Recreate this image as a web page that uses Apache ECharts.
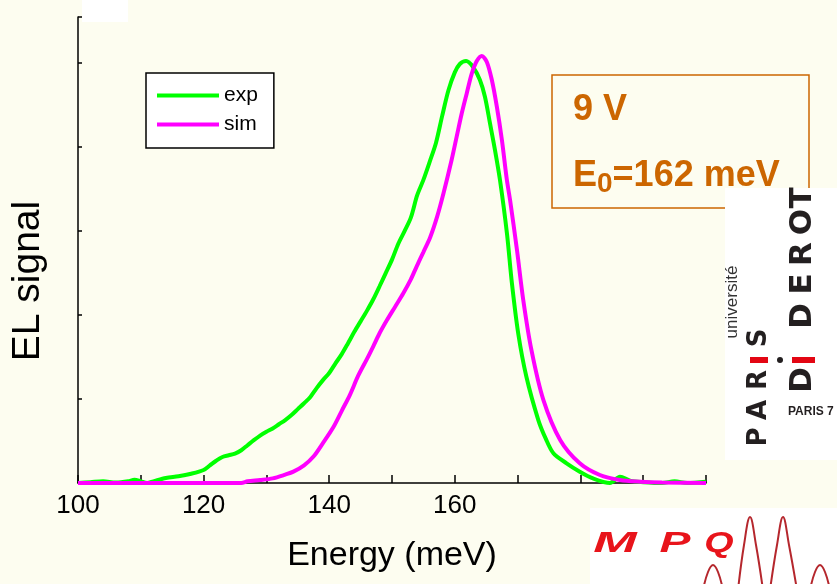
<!DOCTYPE html>
<html>
<head>
<meta charset="utf-8">
<title>EL signal - 9 V</title>
<script src="https://cdn.jsdelivr.net/npm/echarts@6/dist/echarts.min.js"></script>
<style>
  html, body { margin: 0; padding: 0; background: #fdfdf0; }
  #chart { width: 837px; height: 584px; }
</style>
</head>
<body>
<div id="chart"></div>
<script>
// measured EL spectrum (exp) and simulation (sim), normalised
const expEnergy = [100, 102, 104, 106, 108, 109, 110, 111, 112, 114, 116, 118, 120, 121, 122, 123, 124, 125,
  126, 127, 128, 129, 130, 131, 132, 133, 134, 135, 136, 137, 138, 139, 140, 141, 142, 143, 144, 145, 146,
  147, 148, 149, 150, 151, 152, 153, 154, 155, 156, 157, 158, 159, 160, 160.8, 161.8, 162.9, 164, 164.8,
  165.6, 166.4, 167.2, 168.3, 169.1, 170.1, 171.4, 173.3, 174.5, 175.7, 177.8, 179.9, 182, 184.7, 186.3,
  188, 190, 193, 195, 197, 200];
const expSignal = [0, 0.002, 0.004, 0.001, 0.004, 0.008, 0.004, 0, 0.004, 0.012, 0.016, 0.022, 0.031, 0.042,
  0.053, 0.062, 0.066, 0.070, 0.078, 0.090, 0.102, 0.113, 0.122, 0.130, 0.140, 0.150, 0.162, 0.176, 0.190,
  0.205, 0.226, 0.245, 0.262, 0.285, 0.307, 0.333, 0.360, 0.385, 0.410, 0.437, 0.468, 0.500, 0.532, 0.570,
  0.600, 0.632, 0.685, 0.722, 0.765, 0.810, 0.875, 0.936, 0.978, 0.998, 1.005, 0.991, 0.960, 0.920, 0.857,
  0.793, 0.721, 0.595, 0.475, 0.356, 0.253, 0.150, 0.105, 0.071, 0.047, 0.027, 0.011, 0, 0.015, 0.005,
  0.002, 0, 0.004, 0, 0.003];

const simEnergy = [100, 110, 120, 126, 127, 129, 131, 133, 134.3, 136, 137.5, 139, 140.7, 142, 143.3, 144.6,
  146, 147, 148, 149.2, 150.5, 151.8, 153, 153.9, 155, 156.1, 157.2, 158.2, 159.5, 160.3, 161.1, 161.9,
  162.7, 163.5, 164.3, 165.1, 165.9, 166.7, 167.5, 168.3, 168.8, 169.9, 170.9, 172.2, 174.1, 176.8, 179.9,
  183.1, 186.3, 189.5, 193, 200];
const simSignal = [0, 0, 0, 0, 0.004, 0.007, 0.011, 0.020, 0.027, 0.042, 0.063, 0.095, 0.134, 0.172, 0.210,
  0.255, 0.295, 0.325, 0.356, 0.388, 0.420, 0.452, 0.485, 0.515, 0.550, 0.586, 0.635, 0.690, 0.770, 0.825,
  0.880, 0.928, 0.975, 1.005, 1.017, 1.003, 0.960, 0.896, 0.817, 0.721, 0.674, 0.555, 0.436, 0.317, 0.198,
  0.102, 0.047, 0.019, 0.007, 0.003, 0.001, 0];

const xLabels = [100, 120, 140, 160];

const FONT = '"Liberation Sans", Arial, sans-serif';
const ORANGE = '#cc6600';
const MPQ_RED = '#e8141b';
const WAVE = '#b5272d';

function pairs(xs, ys) {
  return xs.map((x, i) => [x, ys[i]]);
}

// rotated letters for the university logo (reads bottom to top)
function letters(list, x, size, color) {
  return list.map(([ch, y]) => ({
    type: 'text', x: x, y: y, rotation: Math.PI / 2, z: 12,
    style: { text: ch, fill: color, font: 'bold ' + size + 'px "DejaVu Sans", sans-serif',
      align: 'center', verticalAlign: 'middle' }
  }));
}

function mpqLetter(ch, x, sx) {
  return { type: 'text', x: x, y: 544, scaleX: sx, z: 12,
    style: { text: ch, fill: MPQ_RED, font: 'italic bold 29px ' + FONT, align: 'center', verticalAlign: 'middle' } };
}

function wave(points) {
  return { type: 'polyline', z: 12, shape: { smooth: 0.4, points: points },
    style: { stroke: WAVE, lineWidth: 2, fill: 'none' } };
}

const chart = echarts.init(document.getElementById('chart'));

const option = {
  animation: false,
  backgroundColor: '#fdfdf0',
  grid: { left: 78, right: 131, top: 17, bottom: 101, containLabel: false, outerBoundsMode: 'none' },
  legend: {
    orient: 'vertical',
    left: 146, top: 73,
    icon: 'rect',
    itemWidth: 62, itemHeight: 4, itemGap: 8,
    padding: [12, 16, 13, 11],
    backgroundColor: '#ffffff',
    borderColor: '#000', borderWidth: 1.5, borderRadius: 0,
    textStyle: { fontFamily: FONT, fontSize: 21, lineHeight: 20, color: '#000' },
    data: ['exp', 'sim']
  },
  xAxis: {
    type: 'value',
    min: 100, max: 200, interval: 10,
    name: 'Energy (meV)',
    nameLocation: 'middle',
    nameGap: 56,
    nameTextStyle: { fontFamily: FONT, fontSize: 34, color: '#000' },
    axisLine: { lineStyle: { color: '#000', width: 1.5 } },
    axisTick: { inside: true, length: 8, lineStyle: { color: '#000', width: 1.5 } },
    axisLabel: {
      fontFamily: FONT, fontSize: 26, color: '#000', margin: 10,
      formatter: v => (xLabels.indexOf(v) >= 0 ? String(v) : '')
    },
    splitLine: { show: false }
  },
  yAxis: {
    type: 'value',
    min: 0, max: 1.11, interval: 0.2,
    name: 'EL signal',
    nameLocation: 'middle',
    nameGap: 30,
    nameTextStyle: { fontFamily: FONT, fontSize: 39, color: '#000', padding: [0, 62, 0, 0] },
    axisLine: { show: true, lineStyle: { color: '#000', width: 1.5 } },
    axisTick: { show: true, inside: true, length: 4, lineStyle: { color: '#000', width: 1.5 } },
    axisLabel: { show: false },
    splitLine: { show: false }
  },
  series: [
    {
      name: 'exp', type: 'line', data: pairs(expEnergy, expSignal),
      smooth: 0.3, symbol: 'none',
      lineStyle: { color: '#00ff00', width: 4 }, itemStyle: { color: '#00ff00' }
    },
    {
      name: 'sim', type: 'line', data: pairs(simEnergy, simSignal),
      smooth: 0.3, symbol: 'none',
      lineStyle: { color: '#ff00ff', width: 4 }, itemStyle: { color: '#ff00ff' }
    }
  ],
  graphic: [
    // small white patch at top left
    { type: 'rect', shape: { x: 82, y: 0, width: 46, height: 22 }, style: { fill: '#ffffff' }, z: 5 },
    // annotation box
    { type: 'rect', shape: { x: 552, y: 75, width: 257, height: 133 },
      style: { fill: 'none', stroke: ORANGE, lineWidth: 1.5 }, z: 8 },
    { type: 'text', x: 573, y: 110, z: 9,
      style: { text: '9 V', fill: ORANGE, font: 'bold 36px ' + FONT, verticalAlign: 'middle' } },
    { type: 'text', x: 573, y: 176, z: 9,
      style: {
        text: 'E{sub|0}=162 meV', fill: ORANGE, font: 'bold 36px ' + FONT, verticalAlign: 'middle',
        rich: { sub: { fontSize: 28, fontWeight: 'bold', fontFamily: FONT, fill: ORANGE, padding: [16, 0, 0, 0] } }
      } },
    // logos
    { type: 'rect', shape: { x: 725, y: 188, width: 112, height: 272 }, style: { fill: '#ffffff' }, z: 10 },
    { type: 'rect', shape: { x: 590, y: 508, width: 247, height: 76 }, style: { fill: '#ffffff' }, z: 10 },
    ...letters([['P', 437], ['A', 410], ['R', 380], ['S', 338]], 759, 26, '#231f20'),
    ...letters([['D', 380], ['D', 316], ['E', 284], ['R', 254], ['O', 222], ['T', 198]], 803, 31, '#231f20'),
    { type: 'rect', shape: { x: 750, y: 357, width: 18, height: 6 }, style: { fill: '#e30613' }, z: 12 },
    { type: 'rect', shape: { x: 792, y: 357, width: 23, height: 6 }, style: { fill: '#e30613' }, z: 12 },
    { type: 'circle', shape: { cx: 780, cy: 360, r: 3 }, style: { fill: '#231f20' }, z: 12 },
    { type: 'text', x: 732, y: 302, rotation: Math.PI / 2, z: 12,
      style: { text: 'université', fill: '#333', font: '17px ' + FONT, align: 'center', verticalAlign: 'middle' } },
    { type: 'text', x: 788, y: 412, z: 12,
      style: { text: 'PARIS 7', fill: '#231f20', font: 'bold 12px ' + FONT, verticalAlign: 'middle' } },
    mpqLetter('M', 615, 1.8),
    mpqLetter('P', 675, 1.6),
    mpqLetter('Q', 719, 1.3),
    wave([[738, 590], [744, 545], [750, 517], [756, 545], [763, 590]]),
    wave([[770, 590], [777, 545], [783, 517], [789, 545], [797, 590]]),
    wave([[703, 590], [708, 572], [713, 565], [718, 572], [723, 590]]),
    wave([[810, 590], [815, 572], [820, 565], [825, 572], [830, 590]])
  ]
};

chart.setOption(option);
window.addEventListener('resize', () => chart.resize());
</script>
</body>
</html>
